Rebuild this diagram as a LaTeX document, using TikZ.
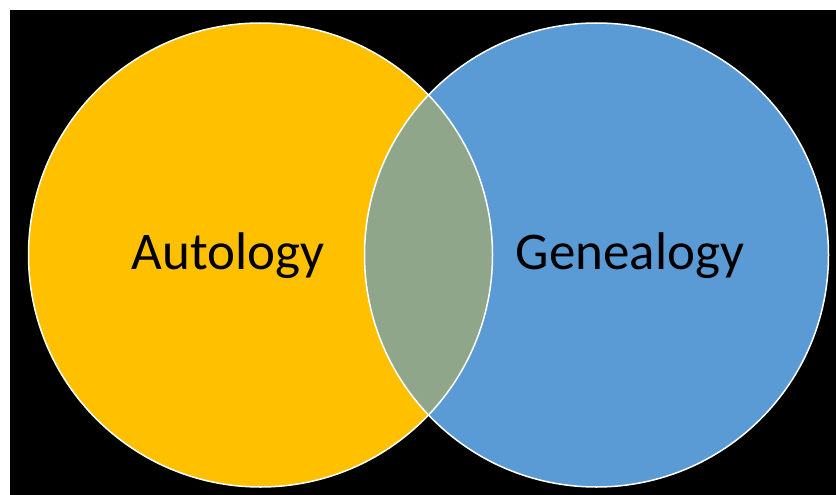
\documentclass[tikz,border=0pt]{standalone}
\usepackage{fontspec}
\setmainfont{Carlito}
\definecolor{venyellow}{HTML}{FFC000}
\definecolor{venblue}{HTML}{5B9BD5}
\definecolor{venlens}{HTML}{8FA68B}
\begin{document}
\begin{tikzpicture}[x=1pt,y=-1pt,
  ring/.style={draw=white,line width=1.5pt},
  lbl/.style={font=\fontsize{53}{62}\selectfont,text=black,anchor=base,inner sep=0pt}]
\useasboundingbox (0,0) rectangle (836,495);
\fill[white] (0,0) rectangle (836,495);
\fill[black] (10,10) rectangle (836,495);
\fill[venyellow] (260.5,255) circle (232);
\fill[venblue] (596.5,255) circle (232);
\begin{scope}
  \clip (260.5,255) circle (232);
  \fill[venlens] (596.5,255) circle (232);
\end{scope}
\draw[ring] (260.5,255) circle (232);
\draw[ring] (596.5,255) circle (232);
\node[lbl] (auto) at (228,269) {Autology};
\node[lbl] (gene) at (630,269) {Genealogy};
\end{tikzpicture}
\end{document}
